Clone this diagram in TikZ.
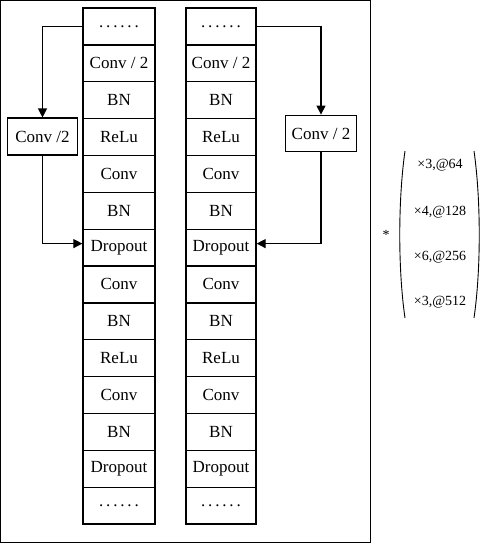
\documentclass[tikz,border=0pt]{standalone}
\usepackage{fontspec}
\setmainfont{Liberation Serif}
\usetikzlibrary{arrows.meta}
\begin{document}
\begin{tikzpicture}[x=1pt,y=-1pt,
  cell/.style={draw,line width=1.3pt,minimum width=72pt,minimum height=36.86pt,inner sep=0pt,font=\fontsize{17}{19}\selectfont},
  sidebox/.style={draw,line width=1.3pt,minimum width=70pt,minimum height=37pt,inner sep=0pt,font=\fontsize{17}{19}\selectfont},
  conn/.style={line width=1.2pt,-{Triangle[length=9pt,width=9pt]}},
  lbl/.style={font=\fontsize{14}{16}\selectfont,inner sep=0pt}]
\useasboundingbox (0,0) rectangle (479,543);
\draw[line width=1.3pt] (0.6,0.6) rectangle (370.5,542.4);
\foreach \t [count=\i] in {{.\,.\,.\,.\,.\,.},{Conv / 2},BN,ReLu,Conv,BN,Dropout,Conv,BN,ReLu,Conv,BN,Dropout,{.\,.\,.\,.\,.\,.}}{
  \node[cell] (L\i) at (119,{8+36.86*(\i-0.5)}) {\t};
  \node[cell,minimum width=70pt] (R\i) at (221,{8+36.86*(\i-0.5)}) {\t};
}
\node[sidebox] (convL) at (42.5,136.6) {Conv /2};
\node[sidebox,minimum width=71pt,minimum height=36.5pt] (convR) at (321,133.5) {Conv / 2};
\draw[conn] (L1.west) -| (convL.north);
\draw[conn] (convL.south) |- ([yshift=4pt]L7.west);
\draw[conn] (R1.east) -| (convR.north);
\draw[conn] (convR.south) |- ([yshift=4pt]R7.east);
\node[lbl] (star) at (386,235) {*};
\node[lbl] (t1) at (440,165) {×3,@64};
\node[lbl] (t2) at (440,212) {×4,@128};
\node[lbl] (t3) at (440,257) {×6,@256};
\node[lbl] (t4) at (440,302) {×3,@512};
\draw[line width=0.9pt] (405,151) .. controls (398,200) and (398,270) .. (405,318);
\draw[line width=0.9pt] (474,151) .. controls (481,200) and (481,270) .. (474,318);
\end{tikzpicture}
\end{document}
